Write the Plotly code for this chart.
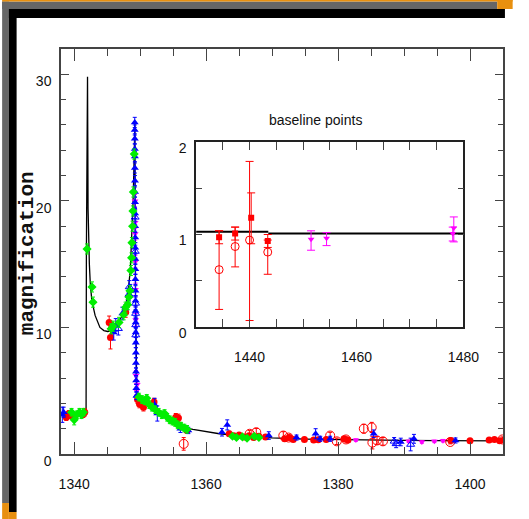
import plotly.graph_objects as go

# ---------------- main light curve: model ----------------
model_day = [1338.0, 1341.8, 1341.85, 1341.95, 1342.02, 1342.06, 1342.1, 1342.16, 1342.3,
             1342.44, 1342.68, 1343.17, 1343.9, 1344.5, 1345.1, 1345.6, 1346.2, 1346.8,
             1347.4, 1347.9, 1348.2, 1348.5, 1348.7, 1348.9, 1349.05, 1349.15, 1349.2,
             1349.3, 1349.38, 1349.5, 1350.0, 1351.0, 1352.0, 1353.0, 1354.0, 1355.0,
             1356.0, 1357.0, 1358.0, 1360.0, 1362.0, 1365.0, 1368.0, 1370.0, 1375.0,
             1380.0, 1385.0, 1390.0, 1395.0, 1400.0, 1405.0]
model_mag = [3.05, 3.1, 16.0, 25.0, 29.8, 25.0, 19.4, 17.6, 15.0,
             13.45, 12.1, 10.95, 10.0, 9.75, 9.68, 9.75, 10.0, 10.45,
             11.1, 12.0, 13.0, 14.5, 16.5, 19.5, 22.5, 25.0, 26.3,
             12.0, 6.0, 4.75, 4.35, 3.9, 3.5, 3.2, 2.9, 2.6,
             2.3, 2.05, 1.95, 1.75, 1.6, 1.45, 1.33, 1.27, 1.18,
             1.13, 1.1, 1.07, 1.06, 1.05, 1.04]

# ---------------- main light curve: photometry ----------------
red_day = [1338.8, 1339.2, 1339.6, 1341.3, 1341.6,
           1345.3, 1345.5, 1345.7, 1347.8,
           1349.6, 1349.9, 1350.5, 1352.1, 1355.4, 1355.8, 1357.1,
           1363.5, 1364.2, 1365.0, 1365.8, 1366.5, 1367.2, 1368.0, 1369.0,
           1371.9, 1372.6, 1373.2, 1374.9, 1376.3, 1377.0, 1378.2, 1380.9,
           1381.5, 1397.1, 1400.0, 1402.9, 1403.7, 1404.5, 1405.2]
red_mag = [2.9, 3.2, 3.0, 3.1, 3.3,
           10.4, 9.2, 9.9, 11.2,
           4.3, 3.95, 3.7, 4.1, 2.9, 2.85, 1.86,
           1.6, 1.45, 1.5, 1.35, 1.45, 1.3, 1.4, 1.35,
           1.2, 1.3, 1.15, 1.15, 1.1, 1.12, 1.15, 1.2,
           1.1, 1.07, 1.05, 1.1, 1.15, 1.05, 1.1]
red_err = [0.25, 0.2, 0.2, 0.2, 0.3,
           0.5, 0.9, 0.5, 0.4,
           0.3, 0.3, 0.3, 0.3, 0.3, 0.3, 0.2,
           0.2, 0.15, 0.15, 0.15, 0.15, 0.15, 0.15, 0.15,
           0.15, 0.15, 0.15, 0.12, 0.12, 0.12, 0.12, 0.12,
           0.12, 0.1, 0.15, 0.1, 0.1, 0.12, 0.12]

red_open_day = [1356.6, 1366.6, 1367.6, 1371.7, 1372.5, 1378.8, 1379.8, 1381.2,
                1383.9, 1385.1, 1385.2, 1385.9, 1386.8, 1397.0, 1404.9]
red_open_mag = [0.8, 1.6, 1.72, 1.46, 1.3, 1.46, 1.0, 1.15,
                2.0, 2.1, 0.9, 1.07, 1.0, 0.95, 1.15]
red_open_err = [0.5, 0.25, 0.3, 0.3, 0.2, 0.25, 0.25, 0.2,
                0.35, 0.4, 0.5, 0.3, 0.3, 0.15, 0.2]

blue_day = [1338.2, 1338.4,
            1346.0, 1346.3, 1347.3, 1348.05, 1348.5,
            1349.18, 1349.18, 1349.19, 1349.19, 1349.2, 1349.2, 1349.21, 1349.22,
            1349.22, 1349.23, 1349.24, 1349.25, 1349.25, 1349.26, 1349.27, 1349.28,
            1349.29, 1349.3, 1349.31, 1349.32, 1349.33, 1349.34, 1349.35, 1349.36,
            1349.37, 1349.39, 1349.42, 1349.45,
            1349.5, 1352.2, 1352.6, 1356.1, 1357.3,
            1362.4, 1363.2, 1369.5, 1373.7, 1376.6, 1377.3, 1378.8, 1385.4,
            1389.5, 1391.5, 1397.8]
blue_mag = [3.1, 3.3,
            9.6, 10.2, 11.1, 11.9, 12.9,
            26.2, 25.6, 24.9, 24.1, 23.5, 22.6, 21.6, 20.7,
            19.9, 19.0, 18.0, 17.1, 16.3, 15.4, 14.6, 13.8,
            12.9, 12.1, 11.3, 10.4, 9.6, 8.8, 8.0, 7.2,
            6.5, 5.8, 5.2, 4.6,
            4.6, 3.9, 3.2, 2.0, 1.86,
            1.72, 2.3, 1.46, 1.3, 1.6, 1.2, 1.2, 1.6,
            0.95, 1.2, 1.07]
blue_err = [0.6, 0.4,
            0.6, 0.5, 0.5, 0.5, 0.5,
            0.4, 0.4, 0.4, 0.4, 0.4, 0.4, 0.4, 0.4,
            0.4, 0.4, 0.4, 0.4, 0.4, 0.4, 0.4, 0.4,
            0.4, 0.4, 0.4, 0.4, 0.4, 0.4, 0.4, 0.4,
            0.3, 0.3, 0.3, 0.3,
            0.3, 0.5, 0.6, 0.3, 0.25,
            0.3, 0.4, 0.3, 0.2, 0.4, 0.2, 0.2, 0.3,
            0.3, 0.35, 0.2]

blue_open_day = [1346.7, 1348.3, 1348.35, 1349.24, 1349.26, 1349.3, 1349.31,
                 1349.33, 1349.34, 1388.5, 1388.8, 1391.0]
blue_open_mag = [9.9, 12.6, 13.2, 18.7, 16.0, 11.9, 11.1,
                 10.2, 9.4, 1.0, 0.8, 0.75]
blue_open_err = [0.5, 0.5, 0.5, 0.6, 0.5, 0.5, 0.5,
                 0.5, 0.5, 0.3, 0.3, 0.5]

green_day = [1339.6, 1340.0, 1340.4, 1340.8, 1341.1, 1341.4,
             1341.95, 1342.7, 1342.85,
             1345.6, 1345.9, 1346.8, 1347.5, 1347.8, 1348.1,
             1348.3, 1348.45, 1348.6, 1348.7, 1348.75, 1348.85, 1348.9, 1348.97, 1349.1,
             1349.8, 1350.3, 1350.7, 1351.0, 1351.4, 1351.8, 1352.3, 1352.8, 1353.3,
             1353.7, 1354.1, 1354.5, 1354.9, 1355.3, 1355.7, 1356.2, 1356.7, 1357.1,
             1364.0, 1364.6, 1365.5, 1366.2, 1367.3, 1368.0]
green_mag = [3.3, 2.7, 3.1, 3.3, 3.1, 3.3,
             16.2, 13.2, 12.0,
             9.9, 10.1, 10.4, 11.0, 11.6, 11.8,
             12.4, 12.9, 14.5, 15.5, 16.7, 18.0, 19.2, 20.7, 23.7,
             4.5, 4.3, 4.2, 4.4, 3.9, 3.7, 3.5, 3.3, 3.1,
             3.2, 2.9, 2.7, 2.6, 2.5, 2.3, 2.2, 2.05, 1.95,
             1.4, 1.3, 1.35, 1.25, 1.4, 1.3]
green_err = [0.3, 0.4, 0.3, 0.3, 0.3, 0.3,
             0.4, 0.4, 0.4,
             0.4, 0.4, 0.4, 0.4, 0.4, 0.4,
             0.4, 0.4, 0.4, 0.4, 0.4, 0.4, 0.4, 0.4, 0.4,
             0.3, 0.3, 0.3, 0.3, 0.3, 0.3, 0.3, 0.3, 0.3,
             0.3, 0.3, 0.3, 0.3, 0.3, 0.3, 0.3, 0.3, 0.3,
             0.15, 0.15, 0.15, 0.15, 0.15, 0.15]

magenta_day = [1349.22, 1349.24, 1349.25, 1349.27, 1349.29, 1349.32, 1349.36, 1349.45,
               1349.55, 1382.7, 1390.7, 1392.7, 1394.6, 1395.9]
magenta_mag = [20.0, 18.3, 17.4, 15.2, 13.0, 10.6, 6.2, 5.0,
               5.5, 1.1, 1.0, 0.95, 1.0, 1.05]
magenta_err = [0.5, 0.5, 0.5, 0.5, 0.5, 0.5, 0.4, 0.3,
               0.3, 0.1, 0.1, 0.1, 0.1, 0.1]

# ---------------- inset: baseline points ----------------
base_model_day = [1430.0, 1443.5, None, 1443.5, 1480.0]
base_model_mag = [1.03, 1.03, None, 1.01, 1.01]

base_red_day = [1434.3, 1437.3, 1440.3, 1443.4]
base_red_mag = [0.97, 1.01, 1.18, 0.93]
base_red_err_plus = [0.07, 0.07, 0.27, 0.07]
base_red_err_minus = [0.07, 0.07, 0.28, 0.07]

base_red_open_day = [1434.3, 1437.3, 1440.0, 1443.4]
base_red_open_mag = [0.62, 0.87, 0.94, 0.81]
base_red_open_err_plus = [0.42, 0.21, 0.85, 0.13]
base_red_open_err_minus = [0.43, 0.22, 0.87, 0.24]

base_mag_day = [1451.5, 1454.4, 1478.2, 1478.0]
base_mag_mag = [0.95, 0.96, 1.07, 1.01]
base_mag_err_plus = [0.09, 0.06, 0.12, 0.07]
base_mag_err_minus = [0.12, 0.08, 0.15, 0.08]

main_xticks = [1340, 1360, 1380, 1400]
main_yticks = [0, 10, 20, 30]
inset_xticks = [1440, 1460, 1480]
inset_yticks = [0, 1, 2]

RED, BLUE, GREEN, MAGENTA = "#ff0000", "#0000ff", "#00ee00", "#ff00ff"
W, H = 529, 519
ML, MR, MT, MB = 61, 10, 49, 65
PW, PH = W - ML - MR, H - MT - MB


def px_x(px):
    return (px - ML) / PW


def px_y(py):
    return (H - MB - py) / PH


fig = go.Figure()


def add_points(x, y, err, color, symbol, size, xa="x", ya="y", err_minus=None,
               cap=2, line_w=0):
    ey = dict(type="data", array=err, color=color, thickness=1, width=cap, visible=True)
    if err_minus is not None:
        ey["symmetric"] = False
        ey["arrayminus"] = err_minus
    fig.add_trace(go.Scatter(
        x=x, y=y, mode="markers", xaxis=xa, yaxis=ya, error_y=ey,
        marker=dict(symbol=symbol, size=size, color=color,
                    line=dict(color=color, width=line_w)),
        showlegend=False, hoverinfo="x+y"))


# main panel
fig.add_trace(go.Scatter(x=model_day, y=model_mag, mode="lines",
                         line=dict(color="black", width=1.3), showlegend=False))
add_points(magenta_day, magenta_mag, magenta_err, MAGENTA, "triangle-down", 6)
add_points(red_open_day, red_open_mag, red_open_err, RED, "circle-open", 9, line_w=1)
add_points(red_day, red_mag, red_err, RED, "circle", 7)
add_points(blue_day, blue_mag, blue_err, BLUE, "triangle-up", 7)
add_points(blue_open_day, blue_open_mag, blue_open_err, BLUE, "triangle-up-open", 7, line_w=1)
add_points(green_day, green_mag, green_err, GREEN, "diamond", 7)

# inset panel
fig.add_trace(go.Scatter(x=base_model_day, y=base_model_mag, mode="lines",
                         xaxis="x2", yaxis="y2", line=dict(color="black", width=2),
                         showlegend=False))
add_points(base_red_open_day, base_red_open_mag, base_red_open_err_plus, RED,
           "circle-open", 8, xa="x2", ya="y2", err_minus=base_red_open_err_minus,
           cap=4, line_w=1)
add_points(base_red_day, base_red_mag, base_red_err_plus, RED, "square", 6,
           xa="x2", ya="y2", err_minus=base_red_err_minus, cap=4)
add_points(base_mag_day, base_mag_mag, base_mag_err_plus, MAGENTA, "triangle-down", 6,
           xa="x2", ya="y2", err_minus=base_mag_err_minus, cap=4)

TICK_FONT = dict(family="Liberation Sans Narrow, Liberation Sans, Arial", size=14,
                 color="#111111")
AX_COLOR = "#444444"

fig.update_layout(
    width=W, height=H,
    margin=dict(l=ML, r=MR, t=MT, b=MB),
    paper_bgcolor="white", plot_bgcolor="white",
    xaxis=dict(range=[1338, 1405], tickvals=main_xticks, ticks="inside", ticklen=12,
               tickwidth=1.2, tickcolor=AX_COLOR, showline=True, linecolor=AX_COLOR,
               linewidth=1.5, mirror="ticks", showgrid=False, zeroline=False,
               tickfont=TICK_FONT, ticklabelstandoff=16,
               minor=dict(dtick=5, tick0=1340, ticks="inside", ticklen=7,
                          tickcolor=AX_COLOR, tickwidth=1.2, showgrid=False)),
    yaxis=dict(range=[0, 32], tickvals=main_yticks, ticks="inside", ticklen=8,
               tickwidth=1.2, tickcolor=AX_COLOR, showline=True, linecolor=AX_COLOR,
               linewidth=1.5, mirror="ticks", showgrid=False, zeroline=False,
               tickfont=TICK_FONT, ticklabelstandoff=5, ticklabelshift=7,
               minor=dict(dtick=2, tick0=0, ticks="inside", ticklen=5,
                          tickcolor=AX_COLOR, tickwidth=1.2, showgrid=False)),
    xaxis2=dict(domain=[px_x(201), px_x(478)], anchor="y2", range=[1430, 1480],
                tickvals=inset_xticks, ticks="inside", ticklen=8, tickwidth=1.2,
                tickcolor=AX_COLOR, showline=True, linecolor="#222222", linewidth=1.5,
                mirror="ticks", showgrid=False, zeroline=False, tickfont=TICK_FONT,
                ticklabelstandoff=16,
                minor=dict(dtick=5, tick0=1430, ticks="inside", ticklen=8,
                           tickcolor=AX_COLOR, tickwidth=1.2, showgrid=False)),
    yaxis2=dict(domain=[px_y(327), px_y(142)], anchor="x2", range=[0, 2],
                tickvals=inset_yticks, ticks="inside", ticklen=6, tickwidth=1.2,
                tickcolor=AX_COLOR, showline=True, linecolor="#222222", linewidth=1.5,
                mirror="ticks", showgrid=False, zeroline=False, tickfont=TICK_FONT,
                ticklabelstandoff=5, ticklabelshift=6,
                minor=dict(dtick=0.5, tick0=0, ticks="inside", ticklen=6,
                           tickcolor=AX_COLOR, tickwidth=1.2, showgrid=False)),
)

# axis title and inset title
fig.add_annotation(text="<b>magnification</b>", xref="paper", yref="paper",
                   x=px_x(26), y=px_y(253), xanchor="center", yanchor="middle",
                   textangle=-90, showarrow=False,
                   font=dict(family="Liberation Mono, Courier New, monospace", size=21,
                             color="#111111"))
fig.add_annotation(text="baseline points", xref="paper", yref="paper",
                   x=px_x(325), y=px_y(120), xanchor="center", yanchor="middle",
                   showarrow=False,
                   font=dict(family="Liberation Sans Narrow, Liberation Sans, Arial",
                             size=14, color="#111111"))

# page frame around the figure
GRAY, BLACK, ORANGE = "#666666", "#000000", "#e8900f"
frame = [
    (0, 1.5, 513, 9, GRAY),
    (0, 1.5, 7, 503, GRAY),
    (7, 9, 521, 18, BLACK),
    (7, 9, 15, 512, BLACK),
    (0, 0, 529, 1.5, ORANGE),
    (513, 0, 529, 9, ORANGE),
    (0, 503, 7, 519, ORANGE),
    (7, 512, 15, 519, ORANGE),
]
for x0, y0, x1, y1, c in frame:
    fig.add_shape(type="rect", xref="paper", yref="paper",
                  x0=px_x(x0), x1=px_x(x1), y0=px_y(y1), y1=px_y(y0),
                  fillcolor=c, line=dict(width=0), layer="above")

fig.write_html("out.html")
